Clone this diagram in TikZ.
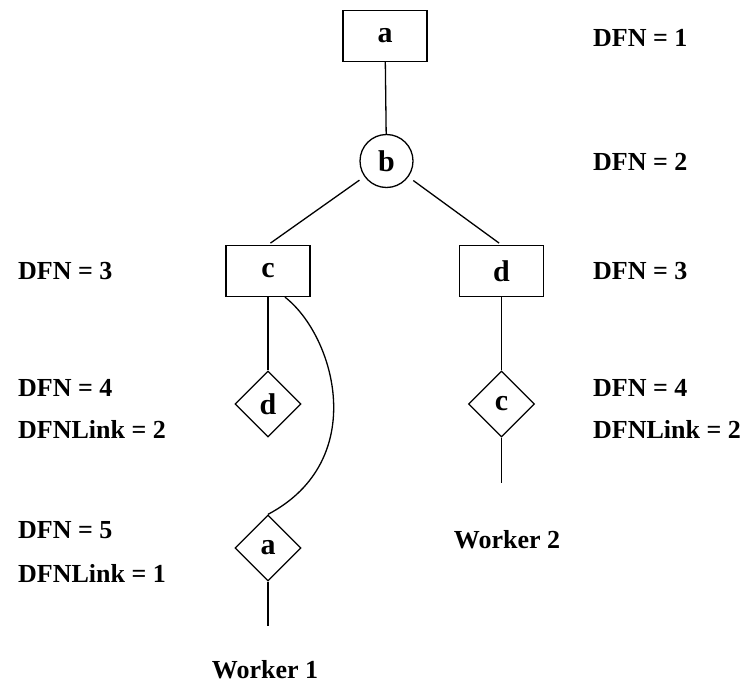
\documentclass[tikz,border=0pt]{standalone}
\usepackage{fontspec}
\setmainfont{Liberation Serif}
\usetikzlibrary{shapes.geometric}
\tikzset{
  every picture/.style={x=1pt,y=-1pt},
  edge/.style={line width=1.3pt,black},
  boxnode/.style={draw,line width=1.3pt,rectangle,minimum width=84pt,minimum height=51pt,inner sep=0pt,font=\fontsize{30}{34}\selectfont\bfseries},
  roundnode/.style={draw,line width=1.3pt,circle,minimum size=53pt,inner sep=0pt,font=\fontsize{30}{34}\selectfont\bfseries},
  linknode/.style={draw,line width=1.3pt,diamond,minimum width=66pt,minimum height=66pt,inner sep=0pt,font=\fontsize{30}{34}\selectfont\bfseries},
  info/.style={anchor=base west,inner sep=0pt,font=\fontsize{26}{30}\selectfont\bfseries},
  caption/.style={anchor=base,inner sep=0pt,font=\fontsize{26}{30}\selectfont\bfseries}
}
\begin{document}
\begin{tikzpicture}
\useasboundingbox (0,0) rectangle (746,685);
% tree nodes
\node[boxnode] (a) at (385,36) {a};
\node[roundnode] (b) at (386.5,161) {b};
\node[boxnode] (c) at (268,271) {c};
\node[boxnode] (d) at (501.5,271) {d};
\node[linknode] (dl) at (268,404) {d};
\node[linknode] (cl) at (501.5,404) {c};
\node[linknode] (al) at (268,548) {a};
\coordinate (w1end) at (268,626);
\coordinate (w2end) at (501.5,483);
% connectors
\draw[edge] (a) -- (b);
\draw[edge,shorten <=6pt,shorten >=3pt] (b) -- (c.north);
\draw[edge,shorten <=6pt,shorten >=3pt] (b) -- (d.north);
\draw[edge] (c) -- (dl);
\draw[edge] (d) -- (cl);
\draw[edge] (cl) -- (w2end);
\draw[edge] (al) -- (w1end);
\draw[edge] ([xshift=17pt]c.south) .. controls +(50,39) and +(102,-54) .. (al.north);
% depth-first numbers
\node[info] (r1) at (593,47) {DFN = 1};
\node[info] (r2) at (593,170) {DFN = 2};
\node[info] (r3) at (593,279.5) {DFN = 3};
\node[info] (r4) at (593,396.5) {DFN = 4};
\node[info] (r5) at (593,438.5) {DFNLink = 2};
\node[info] (l3) at (18,279.5) {DFN = 3};
\node[info] (l4) at (18,396.5) {DFN = 4};
\node[info] (l5) at (18,438.5) {DFNLink = 2};
\node[info] (l6) at (18,538.5) {DFN = 5};
\node[info] (l7) at (18,582.5) {DFNLink = 1};
% worker captions
\node[caption] (w1) at (265,678) {Worker 1};
\node[caption] (w2) at (507,548) {Worker 2};
\end{tikzpicture}
\end{document}
